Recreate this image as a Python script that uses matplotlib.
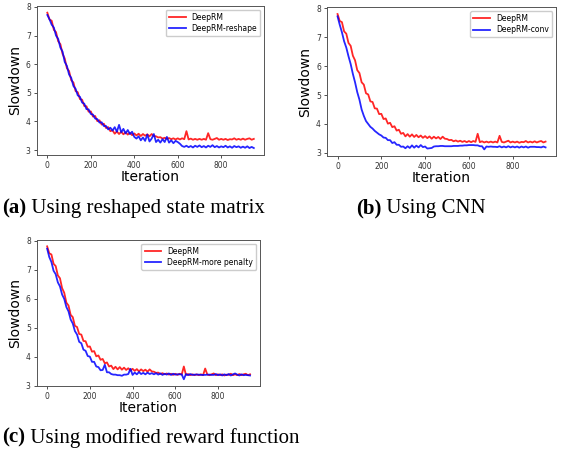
import numpy as np
import matplotlib
matplotlib.use('Agg')
import matplotlib.pyplot as plt

# iteration axis (one value every 10 iterations)
iterations = list(range(0, 951, 10))

# baseline DeepRM, same in every panel
deeprm = [7.80, 7.56, 7.52, 7.20, 7.12, 6.80, 6.70, 6.36, 6.20, 5.86,
          5.76, 5.44, 5.36, 5.06, 5.02, 4.78, 4.76, 4.54, 4.53, 4.34,
          4.35, 4.17, 4.19, 4.01, 4.04, 3.89, 3.92, 3.77, 3.80, 3.66,
          3.69, 3.57, 3.65, 3.56, 3.64, 3.55, 3.62, 3.54, 3.60, 3.52,
          3.58, 3.51, 3.57, 3.49, 3.56, 3.50, 3.55, 3.48, 3.56, 3.49,
          3.48, 3.44, 3.45, 3.40, 3.43, 3.39, 3.42, 3.38, 3.41, 3.37,
          3.41, 3.37, 3.41, 3.38, 3.66, 3.37, 3.40, 3.36, 3.39, 3.36,
          3.39, 3.36, 3.39, 3.36, 3.59, 3.38, 3.36, 3.39, 3.42, 3.36,
          3.39, 3.36, 3.39, 3.35, 3.38, 3.37, 3.41, 3.36, 3.39, 3.36,
          3.40, 3.36, 3.39, 3.41, 3.36, 3.39]

reshape = [7.72, 7.57, 7.38, 7.28, 7.00, 6.88, 6.58, 6.44, 6.08, 5.94,
           5.64, 5.52, 5.24, 5.14, 4.91, 4.86, 4.66, 4.62, 4.43, 4.42,
           4.26, 4.24, 4.10, 4.08, 3.96, 3.97, 3.84, 3.84, 3.72, 3.78,
           3.68, 3.80, 3.64, 3.88, 3.62, 3.74, 3.58, 3.70, 3.56, 3.64,
           3.46, 3.40, 3.48, 3.34, 3.44, 3.32, 3.54, 3.30, 3.40, 3.56,
           3.28, 3.36, 3.26, 3.38, 3.28, 3.46, 3.26, 3.34, 3.24, 3.32,
           3.28, 3.22, 3.14, 3.11, 3.15, 3.10, 3.14, 3.09, 3.15, 3.11,
           3.16, 3.10, 3.14, 3.09, 3.15, 3.11, 3.17, 3.10, 3.14, 3.09,
           3.13, 3.10, 3.15, 3.09, 3.13, 3.08, 3.14, 3.10, 3.13, 3.08,
           3.12, 3.08, 3.13, 3.07, 3.11, 3.07]

conv = [7.72, 7.43, 7.17, 6.86, 6.64, 6.34, 6.07, 5.73, 5.44, 5.10,
        4.84, 4.50, 4.28, 4.10, 4.00, 3.90, 3.84, 3.76, 3.70, 3.64,
        3.60, 3.53, 3.52, 3.44, 3.44, 3.34, 3.37, 3.28, 3.28, 3.21,
        3.22, 3.16, 3.23, 3.17, 3.26, 3.18, 3.25, 3.19, 3.27, 3.20,
        3.22, 3.15, 3.16, 3.17, 3.22, 3.23, 3.23, 3.24, 3.24, 3.23,
        3.23, 3.23, 3.23, 3.24, 3.24, 3.24, 3.25, 3.25, 3.26, 3.26,
        3.27, 3.27, 3.27, 3.26, 3.26, 3.23, 3.23, 3.12, 3.22, 3.21,
        3.22, 3.21, 3.21, 3.20, 3.23, 3.19, 3.22, 3.19, 3.23, 3.19,
        3.22, 3.19, 3.22, 3.18, 3.22, 3.19, 3.22, 3.18, 3.21, 3.21,
        3.21, 3.20, 3.20, 3.19, 3.22, 3.19]

penalty = [7.72, 7.43, 7.26, 6.96, 6.84, 6.56, 6.42, 6.14, 5.99, 5.71,
           5.56, 5.28, 5.14, 4.88, 4.76, 4.51, 4.46, 4.24, 4.20, 4.02,
           4.00, 3.82, 3.82, 3.66, 3.64, 3.53, 3.54, 3.72, 3.46, 3.46,
           3.40, 3.38, 3.38, 3.36, 3.36, 3.34, 3.38, 3.38, 3.40, 3.58,
           3.37, 3.45, 3.39, 3.47, 3.40, 3.44, 3.39, 3.45, 3.40, 3.43,
           3.39, 3.43, 3.38, 3.42, 3.37, 3.41, 3.38, 3.42, 3.37, 3.41,
           3.38, 3.39, 3.39, 3.39, 3.22, 3.40, 3.36, 3.40, 3.37, 3.38,
           3.38, 3.38, 3.37, 3.37, 3.37, 3.38, 3.38, 3.37, 3.37, 3.40,
           3.36, 3.39, 3.35, 3.39, 3.36, 3.40, 3.35, 3.39, 3.42, 3.38,
           3.35, 3.39, 3.36, 3.37, 3.36, 3.35]

panels = [
    ('DeepRM-reshape', reshape, '(a)', ' Using reshaped state matrix'),
    ('DeepRM-conv', conv, '(b)', ' Using CNN'),
    ('DeepRM-more penalty', penalty, '(c)', ' Using modified reward function'),
]
# axes boxes [left, bottom, width, height] in figure fraction
boxes = [[0.0655, 0.659, 0.402, 0.328],
         [0.579, 0.656, 0.405, 0.328],
         [0.0655, 0.150, 0.395, 0.322]]
# caption left edge and baseline in figure fraction
captions = [(0.004, 0.530), (0.630, 0.530), (0.004, 0.025)]

fig = plt.figure(figsize=(5.65, 4.54), dpi=100)

for (name, vals, tag, cap), box, (cx, cy) in zip(panels, boxes, captions):
    ax = fig.add_axes(box)
    ax.plot(iterations, deeprm, color='red', lw=1.3, alpha=0.85, label='DeepRM')
    ax.plot(iterations, vals, color='blue', lw=1.3, alpha=0.85, label=name)
    ax.set_xticks([0, 200, 400, 600, 800])
    ax.set_yticks([3, 4, 5, 6, 7, 8])
    ax.tick_params(labelsize=5.5, length=2.5, width=0.6, pad=2, colors='#333333')
    for s in ax.spines.values():
        s.set_linewidth(0.7)
        s.set_color('#555555')
    ax.set_xlabel('Iteration', fontsize=10, labelpad=0)
    ax.set_ylabel('Slowdown', fontsize=10, labelpad=3)
    ax.legend(loc='upper right', fontsize=5.5, handlelength=2.2, borderpad=0.4,
              labelspacing=0.3, framealpha=1)

    t1 = fig.text(cx, cy, tag, fontsize=15, fontweight='bold',
                  family='Liberation Serif', ha='left', va='baseline')
    ax.annotate(cap, xy=(1, 0), xycoords=t1, fontsize=15,
                family='Liberation Serif', ha='left', va='bottom')

fig.savefig('out.png', dpi=100)
